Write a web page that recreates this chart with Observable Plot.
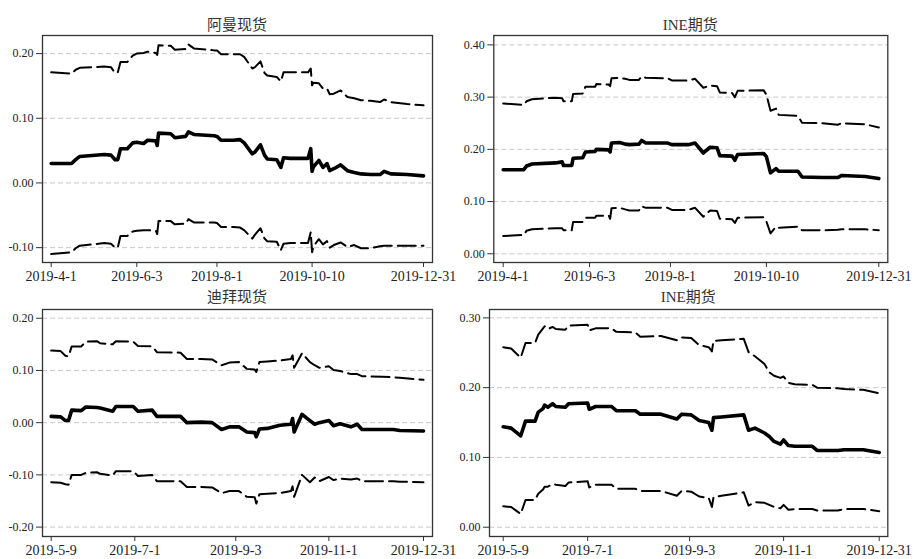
<!DOCTYPE html>
<html>
<head>
<meta charset="utf-8">
<script src="https://cdn.jsdelivr.net/npm/d3@7"></script>
<script src="https://cdn.jsdelivr.net/npm/@observablehq/plot@0.6"></script>
<style>
  html, body { margin: 0; padding: 0; background: #fff; }
  #root { position: relative; width: 913px; height: 559px; overflow: hidden; }
  .panel { position: absolute; }
  .title { position: absolute; text-align: center; font-family: "Liberation Serif", "Noto Sans CJK SC", serif; font-size: 15px; line-height: 20px; color: #333; }
</style>
</head>
<body>
<div id="root"></div>
<script>
// ---------- Titles ----------
const titles = ["阿曼现货", "INE期货", "迪拜现货", "INE期货"];

// ---------- Tick labels ----------
const xTicksTop = ["2019-4-1", "2019-6-3", "2019-8-1", "2019-10-10", "2019-12-31"];
const xTicksBottom = ["2019-5-9", "2019-7-1", "2019-9-3", "2019-11-1", "2019-12-31"];
const yTicksTL = [-0.1, 0, 0.1, 0.2];
const yTicksTR = [0, 0.1, 0.2, 0.3, 0.4];
const yTicksBL = [-0.2, -0.1, 0, 0.1, 0.2];
const yTicksBR = [0, 0.1, 0.2, 0.3];

// ---------- Panel 1: 阿曼现货 ----------
const datesTL = ["2019-4-1","2019-4-16","2019-4-19","2019-4-22","2019-5-10","2019-5-15","2019-5-18","2019-5-20","2019-5-22","2019-5-27",
  "2019-5-31","2019-6-3","2019-6-8","2019-6-11","2019-6-17","2019-6-18","2019-6-19","2019-6-28","2019-7-1","2019-7-9",
  "2019-7-11","2019-7-15","2019-7-30","2019-8-1","2019-8-4","2019-8-13","2019-8-18","2019-8-21","2019-8-27","2019-8-29",
  "2019-9-2","2019-9-5","2019-9-7","2019-9-14","2019-9-17","2019-9-19","2019-9-24","2019-10-7","2019-10-9","2019-10-10",
  "2019-10-11","2019-10-15","2019-10-18","2019-10-21","2019-10-23","2019-10-26","2019-10-31","2019-11-5","2019-11-10","2019-11-15",
  "2019-11-22","2019-11-29","2019-12-2","2019-12-7","2019-12-19","2019-12-31"];
const midTL = [0.030,0.030,0.036,0.041,0.044,0.043,0.036,0.036,0.053,0.053,
  0.062,0.063,0.061,0.066,0.065,0.058,0.077,0.076,0.070,0.072,
  0.079,0.075,0.073,0.072,0.066,0.066,0.067,0.062,0.045,0.048,
  0.059,0.043,0.037,0.036,0.024,0.039,0.038,0.038,0.053,0.018,
  0.025,0.035,0.024,0.030,0.019,0.022,0.028,0.019,0.016,0.014,
  0.013,0.013,0.018,0.014,0.013,0.011];
const upTL = [0.171,0.169,0.175,0.178,0.180,0.179,0.170,0.171,0.187,0.187,
  0.197,0.200,0.201,0.203,0.201,0.198,0.213,0.212,0.206,0.207,
  0.214,0.208,0.205,0.205,0.199,0.199,0.199,0.195,0.177,0.179,
  0.188,0.170,0.166,0.164,0.157,0.171,0.171,0.171,0.177,0.151,
  0.155,0.154,0.146,0.146,0.137,0.138,0.143,0.133,0.131,0.128,
  0.127,0.125,0.129,0.125,0.122,0.120];
const lowTL = [-0.110,-0.107,-0.101,-0.097,-0.093,-0.094,-0.100,-0.100,-0.082,-0.082,
  -0.075,-0.074,-0.073,-0.073,-0.074,-0.079,-0.059,-0.059,-0.064,-0.063,
  -0.056,-0.061,-0.061,-0.062,-0.068,-0.068,-0.069,-0.073,-0.086,-0.080,
  -0.070,-0.086,-0.090,-0.091,-0.104,-0.094,-0.093,-0.093,-0.076,-0.107,
  -0.098,-0.087,-0.095,-0.090,-0.100,-0.096,-0.092,-0.099,-0.096,-0.101,
  -0.101,-0.098,-0.097,-0.097,-0.097,-0.097];

// ---------- Panel 2: INE期货 (top) ----------
const datesTR = ["2019-4-1","2019-4-16","2019-4-18","2019-4-22","2019-5-9","2019-5-14","2019-5-15","2019-5-21","2019-5-22","2019-5-29",
  "2019-5-31","2019-6-7","2019-6-8","2019-6-17","2019-6-18","2019-6-19","2019-6-25","2019-6-29","2019-7-2","2019-7-9",
  "2019-7-11","2019-7-14","2019-7-30","2019-8-2","2019-8-14","2019-8-19","2019-8-25","2019-8-30","2019-9-4","2019-9-6",
  "2019-9-15","2019-9-17","2019-9-19","2019-10-8","2019-10-10","2019-10-13","2019-10-17","2019-10-19","2019-11-2","2019-11-5",
  "2019-11-20","2019-12-1","2019-12-4","2019-12-21","2019-12-31"];
const midTR = [0.161,0.161,0.168,0.172,0.174,0.176,0.169,0.169,0.183,0.184,
  0.195,0.196,0.200,0.199,0.195,0.212,0.213,0.210,0.209,0.210,
  0.217,0.212,0.212,0.209,0.209,0.212,0.193,0.204,0.203,0.188,
  0.187,0.179,0.190,0.192,0.186,0.155,0.163,0.158,0.158,0.147,
  0.146,0.146,0.150,0.148,0.144];
const upTR = [0.288,0.285,0.292,0.296,0.299,0.298,0.292,0.292,0.306,0.307,
  0.320,0.320,0.325,0.324,0.321,0.336,0.337,0.335,0.333,0.333,
  0.340,0.337,0.336,0.332,0.332,0.335,0.318,0.322,0.321,0.309,
  0.308,0.300,0.312,0.313,0.305,0.274,0.278,0.266,0.264,0.251,
  0.250,0.247,0.250,0.248,0.242];
const lowTR = [0.034,0.036,0.044,0.047,0.049,0.049,0.045,0.045,0.061,0.061,
  0.069,0.069,0.073,0.073,0.067,0.087,0.088,0.085,0.083,0.083,
  0.091,0.088,0.088,0.084,0.084,0.088,0.071,0.083,0.082,0.067,
  0.066,0.059,0.069,0.070,0.062,0.039,0.052,0.050,0.052,0.045,
  0.045,0.046,0.047,0.047,0.045];

// ---------- Panel 3: 迪拜现货 ----------
const datesBL = ["2019-5-9","2019-5-15","2019-5-18","2019-5-20","2019-5-22","2019-5-28","2019-5-31","2019-6-7","2019-6-9","2019-6-17",
  "2019-6-19","2019-6-30","2019-7-3","2019-7-12","2019-7-15","2019-7-30","2019-8-3","2019-8-12","2019-8-19","2019-8-25",
  "2019-8-30","2019-9-5","2019-9-10","2019-9-15","2019-9-16","2019-9-18","2019-9-23","2019-10-1","2019-10-8","2019-10-9",
  "2019-10-10","2019-10-15","2019-10-20","2019-10-23","2019-10-26","2019-11-1","2019-11-4","2019-11-8","2019-11-15","2019-11-19",
  "2019-11-22","2019-12-5","2019-12-12","2019-12-16","2019-12-31"];
const midBL = [0.012,0.011,0.004,0.004,0.024,0.023,0.030,0.029,0.028,0.022,
  0.031,0.031,0.022,0.024,0.012,0.012,0.000,0.001,0.000,-0.013,
  -0.008,-0.008,-0.018,-0.019,-0.027,-0.012,-0.011,-0.005,-0.003,0.008,
  -0.018,0.016,0.004,-0.003,0.000,0.004,-0.006,-0.002,-0.008,-0.003,
  -0.013,-0.013,-0.013,-0.015,-0.016];
const upBL = [0.138,0.137,0.128,0.127,0.146,0.146,0.155,0.156,0.152,0.150,
  0.156,0.155,0.147,0.146,0.135,0.134,0.122,0.122,0.121,0.110,
  0.115,0.116,0.103,0.102,0.097,0.116,0.117,0.119,0.122,0.129,
  0.105,0.133,0.116,0.110,0.105,0.108,0.101,0.099,0.093,0.093,
  0.089,0.088,0.087,0.086,0.082];
const lowBL = [-0.114,-0.115,-0.118,-0.119,-0.100,-0.100,-0.096,-0.095,-0.098,-0.101,
  -0.093,-0.093,-0.102,-0.100,-0.112,-0.112,-0.123,-0.123,-0.124,-0.135,
  -0.131,-0.131,-0.142,-0.143,-0.155,-0.137,-0.136,-0.135,-0.131,-0.122,
  -0.142,-0.100,-0.114,-0.105,-0.112,-0.104,-0.110,-0.107,-0.109,-0.107,
  -0.112,-0.112,-0.112,-0.113,-0.114];

// ---------- Panel 4: INE期货 (bottom) ----------
const datesBR = ["2019-5-9","2019-5-14","2019-5-20","2019-5-23","2019-5-29","2019-5-31","2019-6-3","2019-6-4","2019-6-6","2019-6-9",
  "2019-6-11","2019-6-17","2019-6-19","2019-7-1","2019-7-2","2019-7-6","2019-7-16","2019-7-19","2019-7-31","2019-8-3",
  "2019-8-16","2019-8-26","2019-8-29","2019-9-4","2019-9-9","2019-9-15","2019-9-17","2019-9-18","2019-9-23","2019-10-7",
  "2019-10-10","2019-10-14","2019-10-20","2019-10-23","2019-10-26","2019-10-30","2019-11-1","2019-11-4","2019-11-8","2019-11-19",
  "2019-11-22","2019-12-5","2019-12-9","2019-12-21","2019-12-31"];
const midBR = [0.144,0.142,0.131,0.152,0.152,0.165,0.170,0.175,0.172,0.177,
  0.173,0.172,0.177,0.178,0.169,0.173,0.173,0.167,0.167,0.162,
  0.162,0.155,0.162,0.161,0.153,0.150,0.139,0.157,0.158,0.161,
  0.139,0.142,0.135,0.130,0.123,0.119,0.125,0.117,0.116,0.116,
  0.110,0.110,0.111,0.111,0.107];
const upBR = [0.258,0.256,0.243,0.264,0.264,0.276,0.285,0.288,0.284,0.287,
  0.284,0.283,0.289,0.290,0.282,0.285,0.285,0.280,0.279,0.273,
  0.274,0.268,0.272,0.271,0.261,0.258,0.252,0.267,0.268,0.270,
  0.251,0.245,0.234,0.222,0.217,0.214,0.216,0.207,0.205,0.204,
  0.200,0.199,0.198,0.197,0.192];
const lowBR = [0.030,0.029,0.019,0.039,0.039,0.048,0.054,0.058,0.058,0.062,
  0.061,0.059,0.064,0.066,0.057,0.061,0.061,0.055,0.055,0.052,
  0.052,0.045,0.052,0.051,0.044,0.042,0.029,0.043,0.045,0.050,
  0.031,0.036,0.035,0.032,0.029,0.027,0.032,0.025,0.026,0.026,
  0.024,0.024,0.026,0.026,0.023];

// ---------- helpers ----------
function toDate(s) {
  const [y, m, d] = s.split("-").map(Number);
  return new Date(Date.UTC(y, m - 1, d));
}

function makePanel(cfg) {
  const rows = cfg.dates.map((d, i) => ({date: toDate(d), mid: cfg.mid[i], up: cfg.up[i], low: cfg.low[i]}));
  const tickDates = cfg.xTicks.map(toDate);
  const labelOf = new Map(tickDates.map((d, i) => [+d, cfg.xTicks[i]]));
  const svg = Plot.plot({
    width: cfg.width,
    height: cfg.height,
    marginLeft: cfg.ml, marginRight: cfg.mr, marginTop: cfg.mt, marginBottom: cfg.mb,
    style: {fontFamily: "'Liberation Serif', 'Times New Roman', serif", fontSize: "12px", color: "#222", background: "#fff", overflow: "visible"},
    x: {type: "utc", domain: [tickDates[0], tickDates[tickDates.length - 1]], insetLeft: cfg.il, insetRight: cfg.ir},
    y: {domain: cfg.yDomain},
    marks: [
      Plot.gridY(cfg.yTicks, {stroke: "#c8c8c8", strokeOpacity: 1, strokeDasharray: "5,3", strokeWidth: 1}),
      Plot.line(rows, {x: "date", y: "up", stroke: "#000", strokeWidth: 2, strokeDasharray: "18,6", strokeLinejoin: "round"}),
      Plot.line(rows, {x: "date", y: "low", stroke: "#000", strokeWidth: 2, strokeDasharray: "18,6", strokeLinejoin: "round"}),
      Plot.line(rows, {x: "date", y: "mid", stroke: "#000", strokeWidth: 3.6, strokeLinejoin: "round"}),
      Plot.frame({stroke: "#333", strokeWidth: 1.3}),
      Plot.axisY(cfg.yTicks, {tickSize: 6, tickPadding: 3, tickFormat: d => d.toFixed(2), fontSize: 12, label: null, stroke: "#333"}),
      Plot.axisX(tickDates, {tickSize: 5, tickPadding: 4, tickFormat: d => labelOf.get(+d), fontSize: 14, label: null, stroke: "#333"})
    ]
  });
  const wrap = document.createElement("div");
  wrap.className = "panel";
  wrap.style.left = cfg.left + "px";
  wrap.style.top = cfg.top + "px";
  wrap.appendChild(svg);
  const t = document.createElement("div");
  t.className = "title";
  t.textContent = cfg.title;
  t.style.left = (cfg.left + cfg.ml) + "px";
  t.style.width = (cfg.width - cfg.ml - cfg.mr) + "px";
  t.style.top = cfg.titleY - 10 + "px";
  const root = document.getElementById("root");
  root.appendChild(wrap);
  root.appendChild(t);
}

makePanel({title: titles[0], dates: datesTL, mid: midTL, up: upTL, low: lowTL, xTicks: xTicksTop, yTicks: yTicksTL,
  yDomain: [-0.123, 0.228], left: 0, top: 30, width: 456, height: 258, ml: 42, mr: 24, mt: 5, mb: 26, il: 8.7, ir: 9, titleY: 25});
makePanel({title: titles[1], dates: datesTR, mid: midTR, up: upTR, low: lowTR, xTicks: xTicksTop, yTicks: yTicksTR,
  yDomain: [-0.0167, 0.418], left: 456, top: 30, width: 457, height: 258, ml: 37.3, mr: 25.7, mt: 5, mb: 26, il: 9.4, ir: 9, titleY: 25});
makePanel({title: titles[2], dates: datesBL, mid: midBL, up: upBL, low: lowBL, xTicks: xTicksBottom, yTicks: yTicksBL,
  yDomain: [-0.218, 0.2167], left: 0, top: 304, width: 456, height: 255, ml: 42, mr: 24, mt: 5, mb: 23, il: 8.7, ir: 9, titleY: 297});
makePanel({title: titles[3], dates: datesBR, mid: midBR, up: upBR, low: lowBR, xTicks: xTicksBottom, yTicks: yTicksBR,
  yDomain: [-0.0133, 0.312], left: 456, top: 304, width: 457, height: 255, ml: 33, mr: 25.7, mt: 5, mb: 23, il: 13.7, ir: 8.6, titleY: 297});
</script>
</body>
</html>
